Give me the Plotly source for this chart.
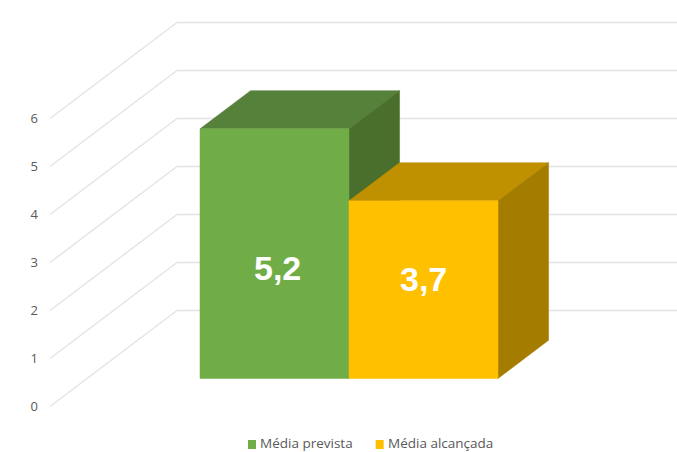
import plotly.graph_objects as go

categories = ["Média prevista", "Média alcançada"]
values = [5.2, 3.7]
value_labels = ["5,2", "3,7"]
y_ticks = [0, 1, 2, 3, 4, 5, 6]

front_colors = ["#70AD47", "#FFC000"]
top_colors = ["#56813A", "#BF9000"]
side_colors = ["#4A6E2B", "#A37C00"]
GRID = "#E4E4E4"
TEXT = "#595959"

W, H = 677, 452
LEFT = 39
UNIT_PX_X = 149.0    # pixels per category
UNIT_PX_Y = 48.0     # pixels per value unit
D_FRONT, D_BACK = 0.292, 0.69  # depth of the bars' faces
DEPTH_X = 127 / UNIT_PX_X   # floor depth shift, x units
DEPTH_Y = 96 / UNIT_PX_Y    # floor depth shift, value units
X0_PX = 274.5 - D_FRONT * 127   # pixel of category 0 at depth 0
Y0_PX = 406.5        # pixel of value 0 on the front edge of the floor
GRID_LEFT = (50 - X0_PX) / UNIT_PX_X
X_MAX = (W - X0_PX) / UNIT_PX_X


def proj(x, v, d):
    return x + d * DEPTH_X, v + d * DEPTH_Y


def poly(points, color):
    xs, ys = zip(*points)
    return go.Scatter(x=list(xs) + [xs[0]], y=list(ys) + [ys[0]], mode="lines",
                      fill="toself", fillcolor=color,
                      line=dict(color=color, width=0.5), hoverinfo="skip",
                      showlegend=False)


fig = go.Figure()

for v in y_ticks:
    a = proj(GRID_LEFT, v, 0)
    b = proj(GRID_LEFT, v, 1)
    fig.add_trace(go.Scatter(x=[a[0], b[0], X_MAX], y=[a[1], b[1], b[1]], mode="lines",
                             line=dict(color=GRID, width=1.4), hoverinfo="skip",
                             showlegend=False))

for i, v in enumerate(values):
    l, r = i - 0.5, i + 0.5
    fig.add_trace(poly([proj(l, v, D_FRONT), proj(r, v, D_FRONT),
                        proj(r, v, D_BACK), proj(l, v, D_BACK)], top_colors[i]))
    fig.add_trace(poly([proj(r, 0, D_FRONT), proj(r, v, D_FRONT),
                        proj(r, v, D_BACK), proj(r, 0, D_BACK)], side_colors[i]))
    fig.add_trace(poly([proj(l, 0, D_FRONT), proj(r, 0, D_FRONT),
                        proj(r, v, D_FRONT), proj(l, v, D_FRONT)], front_colors[i]))

label_shift_y_px = [-14, 11]
label_shift_x_px = [2.5, 0]
for i, v in enumerate(values):
    cx, cy = proj(i, v / 2, D_FRONT)
    fig.add_annotation(x=cx, y=cy, text=value_labels[i], showarrow=False,
                       yshift=label_shift_y_px[i], xshift=label_shift_x_px[i],
                       font=dict(family="Liberation Sans", size=34, color="white", weight="bold"))


def px(p):
    return (p - LEFT) / (W - LEFT)


def py(p):
    return 1 - p / H


legend_swatch_left = [248, 375.7]
legend_text_left = [260, 388]
for i, c in enumerate(categories):
    fig.add_shape(type="rect", xref="paper", yref="paper", x0=px(legend_swatch_left[i]),
                  x1=px(legend_swatch_left[i] + 8), y0=py(449), y1=py(440),
                  fillcolor=front_colors[i], line_width=0)
    fig.add_annotation(xref="paper", yref="paper", x=px(legend_text_left[i]), y=py(442.5),
                       text=c, showarrow=False, xanchor="left", yanchor="middle",
                       borderpad=0, borderwidth=0,
                       font=dict(family="Open Sans", size=13.5, color=TEXT))

fig.update_layout(
    width=W, height=H, margin=dict(l=LEFT, r=0, t=0, b=0), showlegend=False,
    paper_bgcolor="white", plot_bgcolor="white",
    font=dict(family="Open Sans", size=13, color=TEXT),
    xaxis=dict(range=[(LEFT - X0_PX) / UNIT_PX_X, X_MAX], visible=False, fixedrange=True),
    yaxis=dict(range=[(Y0_PX - H) / UNIT_PX_Y, Y0_PX / UNIT_PX_Y], tickvals=y_ticks,
               ticks="", showgrid=False, zeroline=False, showline=False, automargin=False,
               tickfont=dict(family="Open Sans", size=13, color=TEXT), fixedrange=True),
)
fig.write_html("out.html", config=dict(displayModeBar=False),
               post_script="document.body.style.margin='0';document.documentElement.style.overflow='hidden';")
